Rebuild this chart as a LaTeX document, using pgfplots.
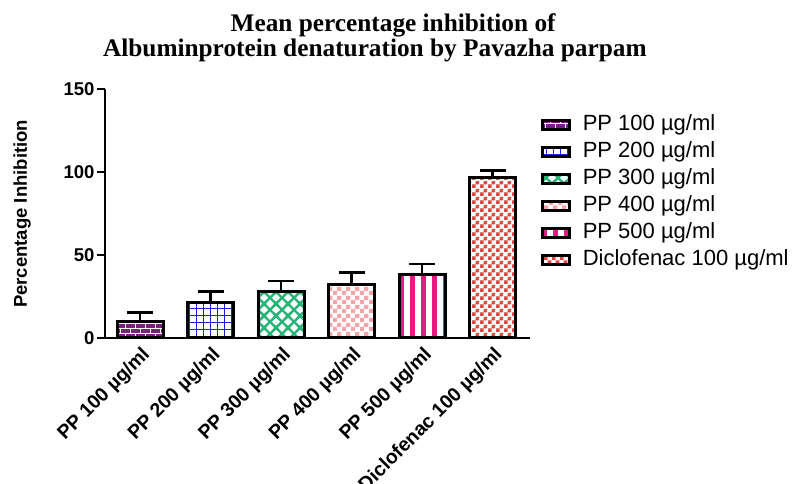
\documentclass[border=0pt]{standalone}
\usepackage{fontspec}
\setmainfont{Liberation Sans}
\newfontfamily\titlefont{Liberation Serif}
\usepackage{pgfplots}
\pgfplotsset{compat=1.18}
\usetikzlibrary{patterns}

\definecolor{cPurple}{RGB}{122,30,122}
\definecolor{cBlue}{RGB}{30,30,230}
\definecolor{cGreen}{RGB}{40,180,120}
\definecolor{cPink}{RGB}{245,165,170}
\definecolor{cMagenta}{RGB}{232,25,128}
\definecolor{cRed}{RGB}{232,70,70}

\pgfdeclarepatternformonly{mybricks}{\pgfqpoint{-1pt}{-1pt}}{\pgfqpoint{11pt}{11pt}}{\pgfqpoint{10pt}{10pt}}{%
  \pgfsetlinewidth{1pt}%
  \pgfpathmoveto{\pgfqpoint{-1pt}{0pt}}\pgfpathlineto{\pgfqpoint{11pt}{0pt}}%
  \pgfpathmoveto{\pgfqpoint{-1pt}{5pt}}\pgfpathlineto{\pgfqpoint{11pt}{5pt}}%
  \pgfpathmoveto{\pgfqpoint{0pt}{0pt}}\pgfpathlineto{\pgfqpoint{0pt}{5pt}}%
  \pgfpathmoveto{\pgfqpoint{5pt}{5pt}}\pgfpathlineto{\pgfqpoint{5pt}{10pt}}%
  \pgfusepath{stroke}}
\pgfdeclarepatternformonly{mygrid}{\pgfqpoint{-1pt}{-1pt}}{\pgfqpoint{8pt}{8pt}}{\pgfqpoint{7pt}{7pt}}{%
  \pgfsetlinewidth{1pt}%
  \pgfpathmoveto{\pgfqpoint{-1pt}{0pt}}\pgfpathlineto{\pgfqpoint{8pt}{0pt}}%
  \pgfpathmoveto{\pgfqpoint{0pt}{-1pt}}\pgfpathlineto{\pgfqpoint{0pt}{8pt}}%
  \pgfusepath{stroke}}
\pgfdeclarepatternformonly{mycross}{\pgfqpoint{-3pt}{-3pt}}{\pgfqpoint{15pt}{15pt}}{\pgfqpoint{12pt}{12pt}}{%
  \pgfsetlinewidth{2.4pt}%
  \pgfpathmoveto{\pgfqpoint{-3pt}{-3pt}}\pgfpathlineto{\pgfqpoint{15pt}{15pt}}%
  \pgfpathmoveto{\pgfqpoint{-3pt}{15pt}}\pgfpathlineto{\pgfqpoint{15pt}{-3pt}}%
  \pgfusepath{stroke}}
\pgfdeclarepatternformonly{mycheckA}{\pgfqpoint{0pt}{0pt}}{\pgfqpoint{9pt}{9pt}}{\pgfqpoint{9pt}{9pt}}{%
  \pgfpathrectangle{\pgfqpoint{0pt}{0pt}}{\pgfqpoint{4.5pt}{4.5pt}}%
  \pgfpathrectangle{\pgfqpoint{4.5pt}{4.5pt}}{\pgfqpoint{4.5pt}{4.5pt}}%
  \pgfusepath{fill}}
\pgfdeclarepatternformonly{mycheckB}{\pgfqpoint{0pt}{0pt}}{\pgfqpoint{8pt}{8pt}}{\pgfqpoint{8pt}{8pt}}{%
  \pgfpathrectangle{\pgfqpoint{0pt}{0pt}}{\pgfqpoint{4pt}{4pt}}%
  \pgfpathrectangle{\pgfqpoint{4pt}{4pt}}{\pgfqpoint{4pt}{4pt}}%
  \pgfusepath{fill}}
\pgfdeclarepatternformonly{myvlines}{\pgfqpoint{0pt}{-2pt}}{\pgfqpoint{11pt}{13pt}}{\pgfqpoint{11pt}{11pt}}{%
  \pgfpathrectangle{\pgfqpoint{3pt}{-2pt}}{\pgfqpoint{4.5pt}{15pt}}%
  \pgfusepath{fill}}

\begin{document}
\begin{tikzpicture}
\begin{axis}[
  scale only axis,
  width=425pt, height=249pt,
  xmin=-0.5, xmax=5.53,
  ymin=0, ymax=150,
  ybar, bar width=46pt, bar shift=0pt,
  clip=false,
  axis lines*=left,
  axis line style={-, line width=2.5pt},
  xtick={0,1,2,3,4,5},
  xticklabels={PP 100 µg/ml, PP 200 µg/ml, PP 300 µg/ml, PP 400 µg/ml, PP 500 µg/ml, Diclofenac 100 µg/ml},
  x tick style={draw=none},
  ytick={0,50,100,150},
  y tick style={line width=2.5pt, black},
  tick align=outside,
  major tick length=8pt,
  /pgf/number format/assume math mode=true,
  yticklabel style={font=\fontsize{18.5}{18.5}\selectfont\bfseries, xshift=1pt},
  xticklabel style={font=\fontsize{19.5}{19.5}\selectfont\bfseries, rotate=45, anchor=east, xshift=4pt, yshift=-9pt},
  ylabel={Percentage Inhibition},
  every axis y label/.style={at={(rel axis cs:-0.195,0.498)}, rotate=90, anchor=center, font=\fontsize{18.5}{18.5}\selectfont\bfseries},
  legend style={at={(1.019,0.918)}, anchor=north west, draw=none, fill=none,
    font=\fontsize{22}{22}\selectfont,
    nodes={text height=15pt, text depth=5pt, inner ysep=3.5pt, inner xsep=3pt},
    /tikz/every odd column/.append style={column sep=9pt}},
  legend cell align=left,
  legend image code/.code={\draw[#1, line width=2.5pt] (0pt,-4.5pt) rectangle (27pt,4.5pt);},
  error bars/y dir=plus,
  error bars/y explicit,
  error bars/error bar style={line width=2.5pt, black},
  error bars/error mark options={line width=2.5pt, black, mark size=13pt, rotate=90},
]
\addplot[draw=black, line width=3pt, fill=cPurple, postaction={pattern=mybricks, pattern color=white}]
  coordinates {(0,9.6) +- (0,5.6)};
\addplot[draw=black, line width=3pt, fill=white, postaction={pattern=mygrid, pattern color=cBlue}]
  coordinates {(1,21.4) +- (0,6.5)};
\addplot[draw=black, line width=3pt, fill=white, postaction={pattern=mycross, pattern color=cGreen}]
  coordinates {(2,27.9) +- (0,6.4)};
\addplot[draw=black, line width=3pt, fill=white, postaction={pattern=mycheckA, pattern color=cPink}]
  coordinates {(3,32.0) +- (0,7.4)};
\addplot[draw=black, line width=3pt, fill=white, postaction={pattern=myvlines, pattern color=cMagenta}]
  coordinates {(4,38.4) +- (0,6.0)};
\addplot[draw=black, line width=3pt, fill=white, postaction={pattern=mycheckB, pattern color=cRed}]
  coordinates {(5,96.8) +- (0,3.9)};
\legend{PP 100 µg/ml, PP 200 µg/ml, PP 300 µg/ml, PP 400 µg/ml, PP 500 µg/ml, Diclofenac 100 µg/ml}
\node[anchor=base, font=\titlefont\fontsize{25.3}{25.3}\selectfont\bfseries] at (rel axis cs:0.678,1.229) {Mean percentage inhibition of};
\node[anchor=base, font=\titlefont\fontsize{25.3}{25.3}\selectfont\bfseries] at (rel axis cs:0.635,1.129) {Albuminprotein denaturation by Pavazha parpam};
\coordinate (bbl) at (rel axis cs:-0.247,-0.586);
\coordinate (btr) at (rel axis cs:1.6235,1.357);
\end{axis}
\pgfresetboundingbox
\path[use as bounding box] (bbl) rectangle (btr);
\end{tikzpicture}
\end{document}
